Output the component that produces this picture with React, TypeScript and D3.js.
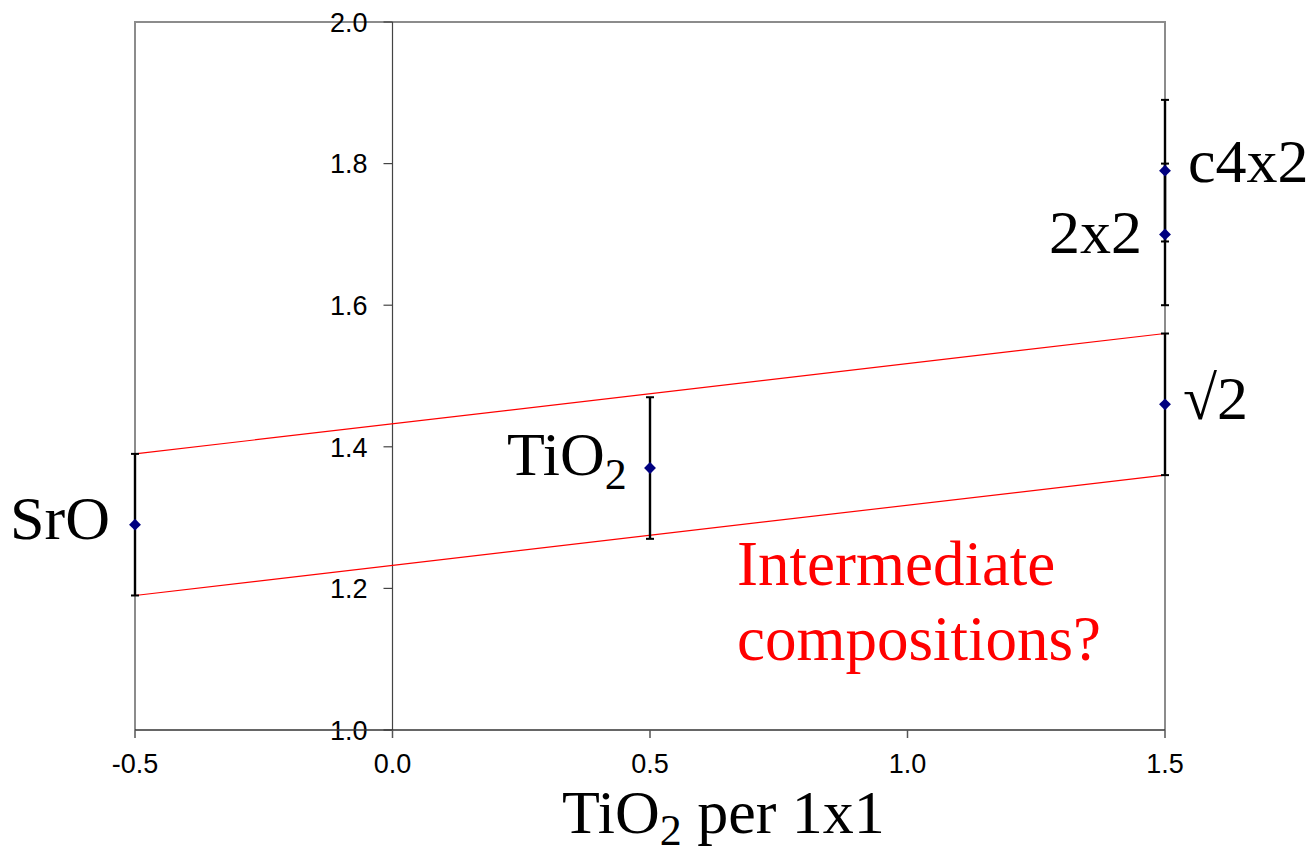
import React from "react";
import * as d3 from "d3";

// Measured periodicity vs. TiO2 coverage, with ±0.1 ranges
const labels = ["SrO", "TiO2", "√2", "2x2", "c4x2"];
const xValues = [-0.5, 0.5, 1.5, 1.5, 1.5];
const yValues = [1.29, 1.37, 1.46, 1.7, 1.79];
const errValues = [0.1, 0.1, 0.1, 0.1, 0.1];

// Guide lines bounding the SrO → TiO2 → √2 trend
const bandX = [-0.5, 1.5];
const bandUpper = [1.39, 1.56];
const bandLower = [1.19, 1.36];

const xTicks = [-0.5, 0.0, 0.5, 1.0, 1.5];
const yTicks = [1.0, 1.2, 1.4, 1.6, 1.8, 2.0];

const W = 1313;
const H = 852;
const M = { left: 135, right: 148, top: 22, bottom: 122 };

const serif = "'Liberation Serif', 'Times New Roman', serif";
const sans = "'Liberation Sans', Arial, sans-serif";

export default function App() {
  const x = d3.scaleLinear().domain([-0.5, 1.5]).range([M.left, W - M.right]);
  const y = d3.scaleLinear().domain([1.0, 2.0]).range([H - M.bottom, M.top]);

  const line = d3
    .line<[number, number]>()
    .x((d) => x(d[0]))
    .y((d) => y(d[1]));

  const upper = bandX.map((v, i) => [v, bandUpper[i]] as [number, number]);
  const lower = bandX.map((v, i) => [v, bandLower[i]] as [number, number]);

  const x0 = x(0);
  const yb = y(1.0);
  const diamond = d3.symbol().type(d3.symbolDiamond2).size(90)();

  const px = (i: number) => x(xValues[i]);
  const py = (i: number) => y(yValues[i]);

  return (
    <svg
      width={W}
      height={H}
      style={{ position: "absolute", left: 0, top: 0, background: "#fff" }}
    >
      {/* plot frame */}
      <path
        d={`M${x(-0.5)},${yb}V${y(2)}H${x(1.5)}V${yb}`}
        fill="none"
        stroke="#8c8c8c"
        strokeWidth={2}
      />

      {/* y axis at x = 0 */}
      <line x1={x0} x2={x0} y1={y(2)} y2={yb} stroke="#444" strokeWidth={1.2} />
      {yTicks.map((t) => (
        <g key={"y" + t}>
          <line x1={x0 - 9} x2={x0} y1={y(t)} y2={y(t)} stroke="#444" strokeWidth={1.2} />
          <text
            x={x0 - 25}
            y={y(t)}
            dy="0.36em"
            textAnchor="end"
            fontFamily={sans}
            fontSize={27}
            fill="#000"
          >
            {t.toFixed(1)}
          </text>
        </g>
      ))}

      {/* x axis */}
      <line x1={x(-0.5)} x2={x(1.5)} y1={yb} y2={yb} stroke="#333" strokeWidth={1.5} />
      {xTicks.map((t) => (
        <g key={"x" + t}>
          <line x1={x(t)} x2={x(t)} y1={yb} y2={yb + 8} stroke="#555" strokeWidth={1.5} />
          <text
            x={x(t)}
            y={yb + 43}
            textAnchor="middle"
            fontFamily={sans}
            fontSize={27}
            fill="#000"
          >
            {t.toFixed(1)}
          </text>
        </g>
      ))}

      {/* red guide band */}
      <path d={line(upper) || ""} fill="none" stroke="#ff0000" strokeWidth={1.2} />
      <path d={line(lower) || ""} fill="none" stroke="#ff0000" strokeWidth={1.2} />

      {/* error bars */}
      {yValues.map((v, i) => {
        const cx = px(i);
        const top = y(v + errValues[i]);
        const bot = y(v - errValues[i]);
        return (
          <g key={"e" + i} stroke="#000" strokeWidth={2.4}>
            <line x1={cx} x2={cx} y1={top} y2={bot} />
            <line x1={cx - 4} x2={cx + 4} y1={top} y2={top} strokeWidth={2} />
            <line x1={cx - 4} x2={cx + 4} y1={bot} y2={bot} strokeWidth={2} />
          </g>
        );
      })}

      {/* data points */}
      {yValues.map((v, i) => (
        <path
          key={"p" + i}
          d={diamond || ""}
          transform={`translate(${px(i)},${py(i)})`}
          fill="#000080"
        />
      ))}

      {/* point labels */}
      <g fontFamily={serif} fontSize={62} fill="#000">
        <text x={px(0) - 25} y={py(0) + 14} textAnchor="end">
          {labels[0]}
        </text>
        <text x={px(1) - 143} y={py(1) + 7}>
          TiO
          <tspan fontSize={44} dy={14}>
            2
          </tspan>
        </text>
        <text x={px(2) + 18} y={py(2) + 15}>
          {labels[2]}
        </text>
        <text x={px(3) - 23} y={py(3) + 19} textAnchor="end">
          {labels[3]}
        </text>
        <text x={px(4) + 23} y={py(4) + 11}>
          {labels[4]}
        </text>
      </g>

      {/* annotation */}
      <g fontFamily={serif} fontSize={63} fill="#ff0000">
        <text x={737} y={585}>
          Intermediate
        </text>
        <text x={737} y={660}>
          compositions?
        </text>
      </g>

      {/* x axis title */}
      <text x={562} y={833} fontFamily={serif} fontSize={62} fill="#000">
        TiO
        <tspan fontSize={44} dy={12}>
          2
        </tspan>
        <tspan dy={-12}> per 1x1</tspan>
      </text>
    </svg>
  );
}
